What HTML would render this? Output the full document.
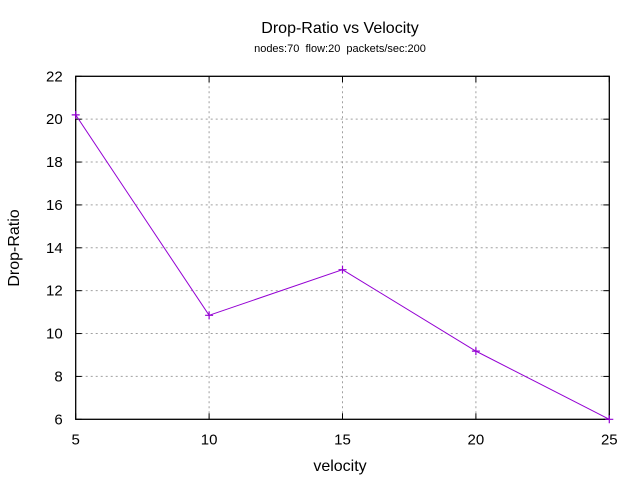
<!DOCTYPE html>
<html><head><meta charset="utf-8"><style>
body{margin:0;background:#fff}
svg text{font-family:"Liberation Sans",sans-serif;fill:#000}
</style></head><body>
<svg id="c" width="640" height="480" xmlns="http://www.w3.org/2000/svg">
<text x="340" y="33" font-size="16" text-anchor="middle">Drop-Ratio vs Velocity</text>
<text x="340" y="52" font-size="11" text-anchor="middle" xml:space="preserve" style="white-space:pre">nodes:70  flow:20  packets/sec:200</text>
<text x="340" y="471" font-size="16" text-anchor="middle">velocity</text>
<text transform="translate(19,248) rotate(-90)" font-size="16" text-anchor="middle">Drop-Ratio</text>
<g id="grid"></g><g id="axes"></g><g id="series"></g>
</svg>
<script>
const xTicks=[5,10,15,20,25];
const yTicks=[6,8,10,12,14,16,18,20,22];
const velocity=[5,10,15,20,25];
const dropRatio=[20.2,10.85,12.98,9.18,6.0];
const X0=75.7,X1=609.3,Y0=419.3,Y1=76.3;
const xs=v=>X0+(v-5)/20*(X1-X0);
const ys=v=>Y0-(v-6)/16*(Y0-Y1);
const NS="http://www.w3.org/2000/svg";
function mk(t,a,p){const e=document.createElementNS(NS,t);for(const k in a)e.setAttribute(k,a[k]);p.appendChild(e);return e;}
const grid=document.getElementById('grid'),axes=document.getElementById('axes'),ser=document.getElementById('series');
xTicks.forEach(v=>{const x=xs(v);
 if(v!==5&&v!==25){const g=mk('line',{x1:x,x2:x,y1:Y1,y2:Y0,stroke:'#a0a0a0','stroke-dasharray':'2,3'},grid);
 
 }
 mk('line',{x1:x,x2:x,y1:Y0,y2:Y0-6,stroke:'#000'},axes);
 mk('line',{x1:x,x2:x,y1:Y1,y2:Y1+6,stroke:'#000'},axes);
 const t=mk('text',{x:x,y:Y0+25,'font-size':15,'text-anchor':'middle'},axes);t.textContent=v;
 
 });
yTicks.forEach(v=>{const y=ys(v);
 if(v!==6&&v!==22){const g=mk('line',{x1:X0,x2:X1,y1:y,y2:y,stroke:'#a0a0a0','stroke-dasharray':'2,3'},grid);
 
 }
 mk('line',{x1:X0,x2:X0+6,y1:y,y2:y,stroke:'#000'},axes);
 mk('line',{x1:X1,x2:X1-6,y1:y,y2:y,stroke:'#000'},axes);
 const t=mk('text',{x:X0-13,y:y+5,'font-size':15,'text-anchor':'end'},axes);t.textContent=v;
 
 });
const fr=mk('rect',{x:X0,y:Y1,width:X1-X0,height:Y0-Y1,fill:'none',stroke:'#000','stroke-width':1.3},axes);


const pl=mk('polyline',{points:velocity.map((v,i)=>xs(v)+','+ys(dropRatio[i])).join(' '),fill:'none',stroke:'#9400d3','stroke-width':1},ser);


velocity.forEach((v,i)=>{const x=xs(v),y=ys(dropRatio[i]);
 const p=mk('path',{d:`M${x-4},${y}H${x+4}M${x},${y-4}V${y+4}`,stroke:'#9400d3','stroke-width':1.2},ser);
 
 });
</script>
</body></html>
